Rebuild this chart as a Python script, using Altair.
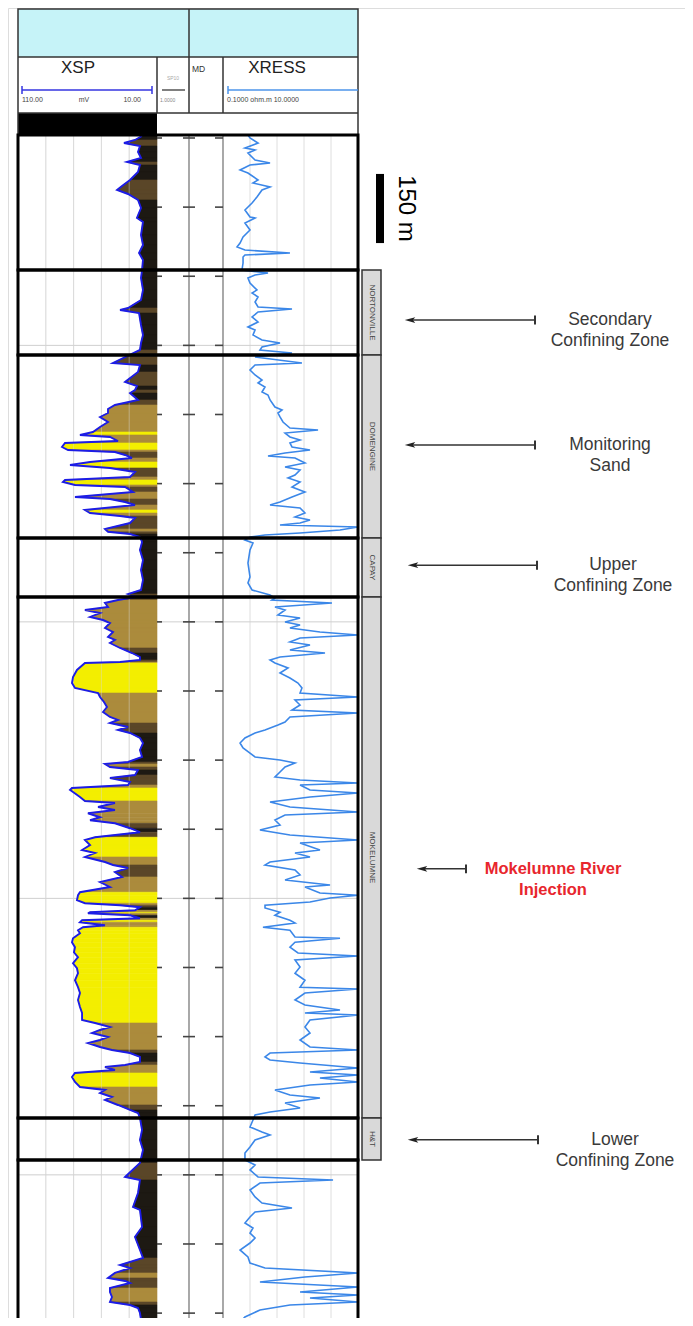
import altair as alt
import pandas as pd

SP_DEPTH_M = [745.7, 754.3, 760.9, 767.4, 780.4, 793.4, 802.1, 808.6, 823.8, 841.1, 854.2, 862.8, 871.5, 884.5,
              901.9, 923.6, 932.3, 960.5, 982.2, 999.6, 1014.7, 1036.4, 1053.8, 1079.8, 1101.5, 1118.9, 1123.2,
              1129.8, 1155.8, 1177.5, 1194.9, 1210.0, 1238.3, 1242.6, 1257.8, 1279.5, 1288.2, 1296.8, 1303.4,
              1318.5, 1329.4, 1338.1, 1346.8, 1355.4, 1366.3, 1377.1, 1388.0, 1394.5, 1398.8, 1407.5, 1411.9,
              1420.5, 1427.0, 1431.4, 1437.9, 1444.4, 1453.1, 1459.6, 1466.1, 1474.8, 1485.6, 1492.1, 1496.5,
              1503.0, 1507.3, 1518.2, 1529.0, 1533.4, 1539.9, 1546.4, 1557.2, 1563.8, 1570.3, 1574.6, 1585.5,
              1598.5, 1604.5, 1609.3, 1615.8, 1626.7, 1644.0, 1666.0, 1687.4, 1709.1, 1730.8, 1739.5, 1746.0,
              1752.5, 1759.0, 1767.7, 1774.2, 1780.8, 1789.4, 1796.0, 1802.5, 1813.3, 1822.0, 1832.8, 1839.3,
              1845.9, 1856.7, 1867.6, 1876.2, 1882.7, 1887.1, 1889.3, 1904.4, 1919.6, 1932.7, 1943.5, 1954.4,
              1963.0, 1973.9, 1984.7, 1995.6, 2006.4, 2012.9, 2019.5, 2028.1, 2034.6, 2041.2, 2052.0, 2062.9,
              2078.0, 2093.2, 2104.1, 2108.4, 2114.9, 2121.4, 2132.3, 2138.8, 2147.5, 2154.0, 2160.5, 2164.8,
              2169.2, 2180.0, 2188.7, 2193.1, 2201.7, 2208.2, 2215.3, 2224.0, 2230.5, 2237.0, 2247.8, 2256.5,
              2267.3, 2273.3, 2284.2, 2295.0, 2301.6, 2310.2, 2321.1, 2327.6, 2334.1, 2342.8, 2353.6, 2364.5,
              2375.3, 2386.7, 2393.2, 2404.1, 2410.6, 2414.9, 2419.3, 2425.8, 2430.1, 2432.3, 2436.6, 2443.1,
              2447.5, 2451.8, 2458.3, 2462.6, 2469.1, 2475.6, 2486.5, 2495.2, 2506.0, 2516.9, 2527.7, 2540.8,
              2551.6, 2562.5, 2577.7, 2592.8, 2605.4, 2620.5, 2635.7, 2648.8, 2663.9, 2670.5, 2679.1, 2685.6,
              2692.2, 2700.8, 2707.3, 2713.9, 2722.5, 2729.0, 2735.6, 2744.2, 2755.1, 2761.6, 2765.9, 2772.4,
              2779.0, 2787.6, 2798.5, 2809.3, 2815.8, 2822.4, 2831.0, 2837.5, 2848.4, 2859.2, 2865.8, 2876.6,
              2902.6, 2924.3, 2946.0, 2974.3, 3004.6, 3011.1, 3039.4, 3069.7, 3076.2, 3113.1, 3134.8, 3163.0,
              3180.4, 3195.6, 3202.1, 3212.9, 3223.8, 3230.3, 3234.7, 3245.5, 3254.2, 3265.0, 3275.9, 3282.4,
              3288.9, 3299.8, 3315.0]
SP_MV = [-3.0, -9.0, -18.5, -4.7, -6.4, -3.8, -15.9, -4.7, -6.4, -13.3, -20.2, -24.5, -15.0, -6.4,
         -3.8, -7.3, -2.1, -3.8, -2.1, -5.5, -2.1, -2.9, -3.8, -2.1, -3.8, -15.0, -21.9,
         -5.5, -3.8, -2.1, -3.8, -4.7, -28.0, -4.7, -6.4, -17.6, -7.3, -9.0, -13.3,
         -6.4, -26.3, -32.3, -32.3, -39.2, -32.3, -39.2, -45.3, -56.5, -30.6, -23.7, -69.4,
         -72.0, -66.8, -26.3, -17.6, -11.6, -47.8, -65.1, -30.6, -9.0, -13.3, -69.4, -71.2,
         -60.8, -17.6, -10.7, -60.8, -30.6, -17.6, -9.0, -52.2, -47.8, -21.9, -9.0, -13.3,
         -34.9, -32.3, -13.3, -4.7, -2.9, -4.7, -2.1, -3.8, -2.1, -3.8, -15.0, -8.2,
         -23.7, -34.9, -32.3, -52.2, -39.2, -47.8, -36.6, -30.6, -34.9, -28.0, -32.3, -26.3,
         -30.6, -21.9, -11.6, -4.7, -4.7, -21.9, -52.2, -59.1, -62.5, -63.4, -60.8, -40.9,
         -39.2, -35.8, -33.2, -36.6, -30.6, -23.7, -30.6, -15.0, -23.7, -13.3, -4.7, -2.1,
         -4.7, -2.9, -15.0, -34.9, -30.6, -6.4, -9.0, -30.6, -13.3, -15.0, -63.4, -65.1,
         -62.5, -56.5, -52.2, -26.3, -40.9, -26.3, -49.6, -39.2, -47.8, -26.3, -13.3, -4.7,
         -43.5, -52.2, -47.8, -54.7, -43.5, -52.2, -34.9, -28.0, -15.0, -26.3, -20.2, -39.2,
         -30.6, -56.5, -58.2, -59.1, -52.2, -21.9, -4.7, -9.0, -47.8, -49.6, -13.3, -4.7,
         -54.7, -56.5, -34.9, -53.9, -58.2, -56.5, -62.5, -63.4, -60.8, -61.7, -58.2, -62.5,
         -59.1, -58.2, -60.8, -58.2, -56.5, -58.2, -56.5, -54.7, -54.7, -43.5, -30.6, -39.2,
         -46.1, -32.3, -39.2, -49.6, -39.2, -28.9, -13.3, -4.7, -4.7, -17.6, -34.9, -26.3,
         -60.8, -63.4, -60.8, -56.5, -34.9, -39.2, -28.9, -34.9, -23.7, -13.3, -6.4, -4.7,
         -2.9, -4.7, -2.1, -4.7, -17.6, -4.7, -6.4, -10.7, -4.7, -2.9, -9.0, -4.7,
         -2.1, -21.9, -13.3, -26.3, -32.3, -17.6, -13.3, -30.6, -30.6, -28.9, -30.6, -13.3,
         -6.4, -4.7, -3.8]

RES_DEPTH_M = [743.5, 750.0, 760.9, 771.7, 776.0, 782.6, 797.7, 804.3, 808.6, 819.4, 826.0, 841.1, 847.7, 856.3,
               862.8, 878.0, 891.0, 906.2, 921.4, 923.6, 934.5, 949.6, 964.8, 977.9, 986.5, 993.0, 999.6,
               1003.9, 1008.2, 1021.3, 1036.4, 1043.0, 1047.3, 1053.8, 1064.7, 1079.8, 1086.4, 1095.0, 1105.9,
               1116.7, 1121.1, 1127.6, 1138.4, 1149.3, 1160.1, 1166.6, 1177.5, 1188.3, 1194.9, 1203.5, 1210.0,
               1216.6, 1225.2, 1238.3, 1242.6, 1253.4, 1264.3, 1275.1, 1281.7, 1290.3, 1301.2, 1307.7, 1318.5,
               1333.7, 1340.2, 1346.8, 1355.4, 1366.3, 1379.3, 1383.6, 1390.2, 1398.8, 1405.3, 1411.9, 1420.5,
               1427.0, 1433.6, 1440.1, 1444.4, 1455.3, 1463.9, 1470.4, 1481.3, 1487.8, 1496.5, 1507.3, 1518.2,
               1529.0, 1539.9, 1546.4, 1552.9, 1563.8, 1572.4, 1578.9, 1585.5, 1589.8, 1594.1, 1600.6, 1607.2,
               1611.5, 1615.8, 1622.3, 1628.9, 1644.0, 1672.3, 1702.6, 1715.7, 1730.8, 1741.7, 1748.2, 1752.5,
               1759.0, 1767.7, 1774.2, 1785.1, 1791.6, 1800.3, 1806.8, 1813.3, 1822.0, 1828.5, 1835.0, 1843.7,
               1850.2, 1861.0, 1867.6, 1876.2, 1882.7, 1889.3, 1900.1, 1911.0, 1921.8, 1932.7, 1943.5, 1954.4,
               1963.0, 1969.5, 1980.4, 1991.2, 1997.8, 2006.4, 2017.3, 2023.8, 2034.6, 2041.2, 2052.0, 2062.9,
               2073.7, 2084.6, 2093.2, 2099.7, 2106.3, 2114.9, 2125.8, 2136.6, 2143.1, 2149.7, 2154.0, 2164.8,
               2171.4, 2180.0, 2190.9, 2201.7, 2212.6, 2219.1, 2229.9, 2240.8, 2251.6, 2262.5, 2273.3, 2279.9,
               2295.0, 2301.6, 2310.2, 2321.1, 2327.6, 2338.4, 2349.3, 2360.1, 2371.0, 2375.3, 2388.4, 2393.2,
               2399.2, 2407.9, 2414.9, 2420.9, 2430.1, 2436.6, 2447.5, 2453.5, 2462.6, 2469.1, 2483.8, 2486.5,
               2495.2, 2506.0, 2518.6, 2525.1, 2533.7, 2548.9, 2562.5, 2577.7, 2592.8, 2596.7, 2605.4, 2620.5,
               2631.4, 2642.2, 2648.8, 2653.1, 2663.9, 2679.1, 2692.2, 2707.3, 2722.5, 2729.0, 2735.6, 2744.2,
               2750.7, 2757.3, 2768.1, 2776.8, 2783.3, 2789.8, 2798.5, 2805.0, 2815.8, 2826.7, 2833.2, 2844.0,
               2854.9, 2863.6, 2870.1, 2880.9, 2896.1, 2907.0, 2913.5, 2924.3, 2939.5, 2952.6, 2967.7, 2978.6,
               2989.4, 3004.6, 3011.1, 3017.7, 3032.8, 3048.0, 3061.1, 3071.9, 3080.6, 3091.4, 3104.5, 3115.3,
               3126.2, 3137.0, 3147.9, 3163.0, 3178.2, 3191.3, 3202.1, 3212.9, 3221.6, 3232.5, 3243.3, 3254.2,
               3260.7, 3267.2, 3275.9, 3282.4, 3293.2, 3308.4, 3319.3]
RES_OHMM = [1.93, 2.08, 2.67, 1.71, 2.45, 1.93, 2.45, 3.55, 2.08, 1.35, 1.93, 2.67, 2.30, 3.55,
            2.96, 2.59, 2.23, 1.71, 2.08, 2.45, 1.71, 2.08, 1.57, 1.35, 1.13, 1.71, 5.01,
            1.71, 1.57, 1.57, 1.49, 3.40, 2.45, 1.93, 2.08, 2.59, 2.23, 2.67, 2.45,
            2.67, 5.16, 2.67, 2.23, 2.67, 1.93, 2.45, 2.30, 2.96, 4.28, 2.96, 2.81,
            5.16, 2.45, 5.89, 2.45, 2.08, 2.45, 2.96, 2.67, 3.18, 2.96, 3.40, 3.55,
            3.91, 4.43, 4.13, 4.28, 4.50, 5.01, 7.07, 4.65, 5.01, 5.75, 5.01, 5.16,
            6.48, 4.65, 3.40, 5.38, 6.11, 4.65, 5.75, 5.38, 4.87, 5.75, 5.16, 6.11,
            5.16, 4.28, 3.55, 5.75, 6.11, 5.38, 6.48, 5.75, 4.28, 10.0, 8.68, 5.75,
            3.18, 2.08, 1.71, 2.30, 2.08, 1.93, 2.08, 1.93, 2.23, 3.55, 3.91, 3.69,
            8.09, 3.91, 4.65, 4.13, 5.75, 4.65, 5.75, 5.01, 7.21, 10.0, 5.75, 5.01,
            6.48, 5.01, 7.58, 4.28, 3.55, 3.91, 4.87, 4.28, 5.01, 5.60, 5.89, 5.75,
            10.0, 5.38, 5.75, 5.16, 10.0, 5.01, 4.65, 4.13, 3.18, 2.45, 1.71, 1.35,
            1.57, 2.08, 2.45, 4.28, 5.38, 4.65, 4.28, 3.91, 5.75, 10.0, 5.75, 6.48,
            10.0, 6.48, 3.55, 5.01, 10.0, 4.65, 3.91, 4.28, 2.81, 5.01, 10.0, 5.75,
            7.21, 5.38, 6.48, 3.55, 3.18, 5.38, 5.75, 4.65, 7.95, 6.11, 7.21, 10.0,
            7.95, 6.48, 3.18, 3.18, 4.28, 3.91, 5.01, 5.38, 3.03, 5.01, 5.38, 8.68,
            5.38, 5.01, 5.60, 10.0, 5.38, 5.75, 5.38, 6.11, 5.75, 10.0, 6.11, 5.38,
            6.11, 8.68, 6.11, 10.0, 6.48, 6.11, 6.48, 5.75, 6.48, 10.0, 3.55, 3.18,
            3.55, 5.75, 10.0, 6.48, 10.0, 7.21, 10.0, 6.48, 3.91, 5.01, 7.21, 4.65,
            5.75, 3.55, 2.45, 2.30, 2.08, 2.96, 3.55, 2.45, 2.08, 1.71, 1.71, 2.45,
            2.08, 2.67, 8.17, 2.81, 2.08, 2.45, 2.96, 5.16, 2.45, 2.08, 1.71, 2.30,
            2.08, 2.45, 2.08, 1.35, 1.93, 2.08, 3.18, 10.0, 6.11, 2.81, 10.0, 5.75,
            10.0, 6.48, 10.0, 5.01, 2.81, 1.71, 1.35]

FORMATIONS = ["NORTONVILLE", "DOMENGINE", "CAPAY", "MOKELUMNE", "H&T"]
FORMATION_TOP_M = [1036.4, 1220.9, 1618.0, 1746.0, 2876.6]
FORMATION_BASE_M = [1220.9, 1618.0, 1746.0, 2876.6, 2967.7]
ZONE_TOP_M = [743.5, 1036.4, 1220.9, 1618.0, 1746.0, 2876.6, 2967.7]
ZONE_BASE_M = [1036.4, 1220.9, 1618.0, 1746.0, 2876.6, 2967.7, 3319.3]
TICK_DEPTH_M = [750, 900, 1050, 1200, 1350, 1500, 1650, 1800, 1950, 2100, 2250, 2400,
                2550, 2700, 2850, 3000, 3150, 3300]
MAJOR_DEPTH_M = [1200, 1800, 2400, 3000]
SP_GRID_MV = [-86, -62, -38, -14]
RES_GRID_OHMM = [2.08, 4.06, 6.04, 8.02]
ANNOT_LINES = [["Secondary", "Confining Zone"], ["Monitoring", "Sand"], ["Upper", "Confining Zone"],
               ["Mokelumne River", "Injection"], ["Lower", "Confining Zone"]]
ANNOT_DEPTH_M = [1145, 1416, 1677, 2336, 2924]
SCALE_BAR_M = [828, 978]
BODY_M = [743.5, 3319.3]

# ---------------- layout / styling ----------------
FONT = "Liberation Sans"
YS = alt.Scale(domain=BODY_M, range=[127, 1314], zero=False, nice=False)
SPX = alt.Scale(domain=[-110, 10], range=[10, 149], zero=False, nice=False)
RSX = alt.Scale(domain=[0.1, 10], range=[215, 350], zero=False, nice=False)
ONE = alt.Data(values=[{"k": 0}])


def Y(field):
    return alt.Y(f"{field}:Q", scale=YS, axis=None)


def box(x1, x2, y1, y2, **kw):
    return alt.Chart(ONE).mark_rect(**kw).encode(
        x=alt.value(x1), x2=alt.value(x2), y=alt.value(y1), y2=alt.value(y2))


def hrule(x1, x2, y, color="#333", w=1.5):
    return alt.Chart(ONE).mark_rule(color=color, strokeWidth=w).encode(
        x=alt.value(x1), x2=alt.value(x2), y=alt.value(y))


def vrule(x, y1, y2, color="#333", w=1.5):
    return alt.Chart(ONE).mark_rule(color=color, strokeWidth=w).encode(
        x=alt.value(x), y=alt.value(y1), y2=alt.value(y2))


def txt(s, x, y, size, color="#222", align="center", **kw):
    return alt.Chart(ONE).mark_text(text=s, fontSize=size, color=color, align=align,
                                    baseline="middle", font=FONT, **kw).encode(
        x=alt.value(x), y=alt.value(y))


layers = []

# header
layers += [
    box(10, 350, 1, 49, color="#c6f3f8"),
    box(10, 149, 105, 127, color="#000000"),
    box(10, 350, 1, 127, fillOpacity=0, stroke="#333", strokeWidth=1.5),
    hrule(10, 350, 49), hrule(10, 350, 105),
    vrule(181, 1, 105), vrule(149, 49, 105), vrule(215, 49, 105),
    txt("XSP", 70, 60, 17),
    txt("XRESS", 269, 60, 17),
    hrule(14, 144, 82, "#3535e0", 1.5), vrule(14, 78, 86, "#3535e0", 1.5), vrule(144, 78, 86, "#3535e0", 1.5),
    txt("110.00", 14, 92, 7, "#444", "left"),
    txt("mV", 76, 92, 7, "#444"),
    txt("10.00", 133, 92, 7, "#444", "right"),
    txt("SP10", 165, 70, 5, "#aaa"),
    hrule(154, 177, 82, "#555", 1.5),
    txt("1.0000", 152, 92, 5, "#888", "left"),
    txt("MD", 184, 61, 8.5, "#333", "left"),
    hrule(220, 350, 82, "#4d94ea", 1.5), vrule(220, 78, 86, "#4d94ea", 1.5),
    txt("0.1000 ohm.m 10.0000", 219, 92, 7, "#444", "left"),
]

# grids (under curves)
spg = pd.DataFrame({"g": SP_GRID_MV})
rsg = pd.DataFrame({"g": RES_GRID_OHMM})
major = pd.DataFrame({"depth": MAJOR_DEPTH_M})
layers += [
    alt.Chart(spg).mark_rule(color="#dedede", strokeWidth=1).encode(
        x=alt.X("g:Q", scale=SPX, axis=None), y=alt.value(127), y2=alt.value(1314)),
    alt.Chart(rsg).mark_rule(color="#dedede", strokeWidth=1).encode(
        x=alt.X("g:Q", scale=RSX, axis=None), y=alt.value(127), y2=alt.value(1314)),
    alt.Chart(major).mark_rule(color="#cfcfcf", strokeWidth=1).encode(
        y=Y("depth"), x=alt.value(10), x2=alt.value(350)),
]

# SP fill, one trapezoid per curve segment coloured by deflection
rows = []
for i in range(len(SP_DEPTH_M) - 1):
    m = (SP_MV[i] + SP_MV[i + 1]) / 2
    cls = "sand" if m <= -47 else "silt" if m <= -25 else "shaly" if m <= -10 else "shale"
    for j in (i, i + 1):
        rows.append({"seg": i, "depth": SP_DEPTH_M[j], "sp": SP_MV[j], "base": 10, "cls": cls})
fill = pd.DataFrame(rows)
CLS = alt.Scale(domain=["sand", "silt", "shaly", "shale"],
                range=["#f3ee00", "#ab8b3c", "#5a4628", "#1d1913"])
layers.append(
    alt.Chart(fill).mark_area(orient="horizontal", strokeWidth=0.6).encode(
        y=Y("depth"), x=alt.X("sp:Q", scale=SPX, axis=None), x2="base:Q",
        color=alt.Color("cls:N", scale=CLS, legend=None),
        stroke=alt.Stroke("cls:N", scale=CLS, legend=None),
        detail="seg:N"))
layers.append(
    alt.Chart(spg).mark_rule(color="#d8d8d8", strokeWidth=1, opacity=0.45).encode(
        x=alt.X("g:Q", scale=SPX, axis=None), y=alt.value(127), y2=alt.value(1314)))

# curves
sp = pd.DataFrame({"depth": SP_DEPTH_M, "sp": SP_MV})
rs = pd.DataFrame({"depth": RES_DEPTH_M, "res": RES_OHMM})
layers += [
    alt.Chart(sp).mark_line(color="#1c1ce6", strokeWidth=1.9).encode(
        x=alt.X("sp:Q", scale=SPX, axis=None), y=Y("depth"), order="depth:Q"),
    alt.Chart(rs).mark_line(color="#3b87e8", strokeWidth=1.6).encode(
        x=alt.X("res:Q", scale=RSX, axis=None), y=Y("depth"), order="depth:Q"),
]

# depth track lines and ticks
ticks = pd.DataFrame({"depth": TICK_DEPTH_M})
layers += [
    vrule(181, 127, 1314, "#7a7a7a", 1.3),
    vrule(215, 127, 1314, "#7a7a7a", 1.3),
]
for a, b in [(149, 154), (175, 187), (207, 215)]:
    layers.append(alt.Chart(ticks).mark_rule(color="#444", strokeWidth=1.6).encode(
        y=Y("depth"), x=alt.value(a), x2=alt.value(b)))

# zone boxes
zones = pd.DataFrame({"top": ZONE_TOP_M, "base": ZONE_BASE_M})
layers.append(alt.Chart(zones).mark_rect(fillOpacity=0, stroke="#000", strokeWidth=3).encode(
    x=alt.value(10), x2=alt.value(350), y=Y("top"), y2="base:Q"))

# formation column
forms = pd.DataFrame({"name": FORMATIONS, "top": FORMATION_TOP_M, "base": FORMATION_BASE_M})
layers += [
    alt.Chart(forms).mark_rect(color="#d9d9d9", stroke="#333", strokeWidth=1.5).encode(
        x=alt.value(354), x2=alt.value(373), y=Y("top"), y2="base:Q"),
    alt.Chart(forms).transform_calculate(mid="(datum.top + datum.base) / 2").mark_text(
        angle=90, fontSize=8, color="#444", font=FONT, align="center", baseline="middle").encode(
        x=alt.value(363.5), y=Y("mid"), text="name:N"),
]

# scale bar
bar = pd.DataFrame({"top": [SCALE_BAR_M[0]], "base": [SCALE_BAR_M[1]],
                    "mid": [(SCALE_BAR_M[0] + SCALE_BAR_M[1]) / 2]})
layers += [
    alt.Chart(bar).mark_rect(color="#000").encode(x=alt.value(368), x2=alt.value(376), y=Y("top"), y2="base:Q"),
    alt.Chart(bar).mark_text(text="150 m", angle=90, fontSize=24, font=FONT, color="#000",
                             align="center", baseline="middle").encode(x=alt.value(398), y=Y("mid")),
]

# annotations
ANNOT_LAYOUT = [(397, 527, 602), (397, 527, 602), (400, 529, 605), (409, 458, 545), (400, 530, 607)]
for lines, d, (xa, xb, xt) in zip(ANNOT_LINES, ANNOT_DEPTH_M, ANNOT_LAYOUT):
    src = pd.DataFrame({"depth": [d]})
    red = lines[0].startswith("Mokelumne")
    layers += [
        alt.Chart(src).mark_rule(color="#333", strokeWidth=1.5).encode(
            y=Y("depth"), x=alt.value(xa + 4), x2=alt.value(xb)),
        alt.Chart(src).mark_point(shape="M-1,0L1,-0.55L0.55,0L1,0.55Z", filled=True, size=110,
                                  color="#222", opacity=1).encode(y=Y("depth"), x=alt.value(xa + 5)),
        alt.Chart(src).mark_point(shape="M0,-1L0,1", filled=False, size=80, strokeWidth=2,
                                  color="#333", opacity=1).encode(y=Y("depth"), x=alt.value(xb)),
        alt.Chart(src).mark_text(text=lines, fontSize=16.5 if red else 17.5, lineHeight=21, font=FONT,
                                 fontWeight="bold" if red else "normal",
                                 color="#e8262d" if red else "#3a3a3a",
                                 align="center", baseline="middle").encode(
            y=Y("depth"), x=alt.value(xt)),
    ]

chart = alt.layer(*layers).resolve_scale(x="independent").properties(
    width=677, height=1310, padding=0, autosize=alt.AutoSizeParams(type="none")
).configure_view(stroke=None).configure(background="white")

chart.save("out.html", embed_options={"renderer": "svg", "actions": False})
